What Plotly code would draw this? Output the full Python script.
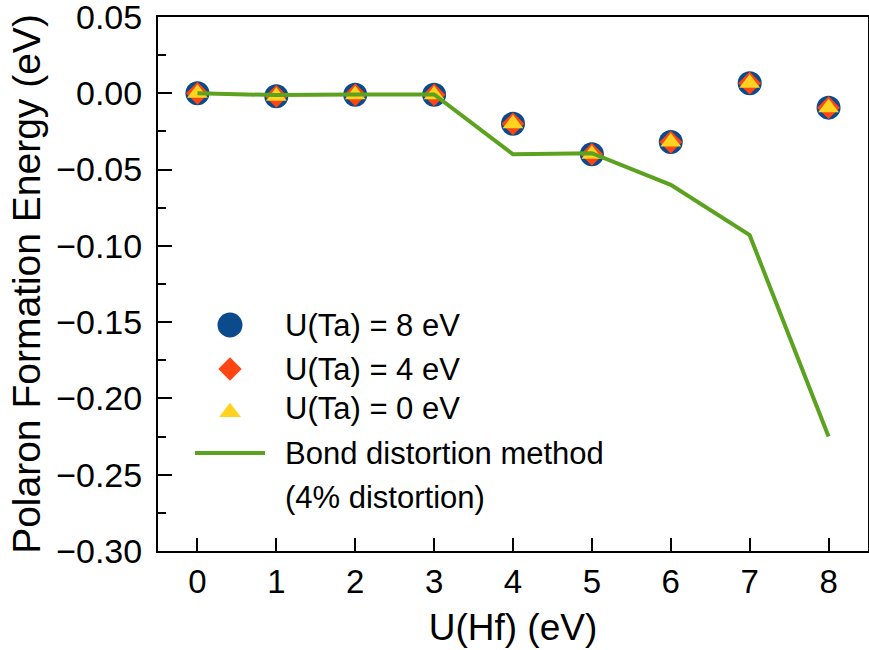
import plotly.graph_objects as go

# ---- data ----
u_hf = [0, 1, 2, 3, 4, 5, 6, 7, 8]
e_ta8 = [0.000, -0.002, -0.001, -0.001, -0.020, -0.040, -0.032, 0.0066, -0.0094]
e_ta4 = [0.000, -0.002, -0.001, -0.001, -0.020, -0.040, -0.032, 0.0066, -0.0094]
e_ta0 = [0.000, -0.002, -0.001, -0.001, -0.020, -0.040, -0.032, 0.0066, -0.0094]
e_bond = [0.000, -0.0012, -0.0008, -0.0008, -0.040, -0.0393, -0.060, -0.093, -0.225]
y_ticks = [0.05, 0.00, -0.05, -0.10, -0.15, -0.20, -0.25, -0.30]
series_names = ["U(Ta) = 8 eV", "U(Ta) = 4 eV", "U(Ta) = 0 eV", "Bond distortion method", "(4% distortion)"]

FONT = "Liberation Sans, Arial, sans-serif"
C_BLUE = "#0b4a8b"
C_ORANGE = "#ff4612"
C_YELLOW = "#ffd320"
C_GREEN = "#5ba21e"

X_RANGE = [-0.5, 8.5]
Y_RANGE = [-0.30, 0.05]

def fx(f):
    return X_RANGE[0] + f * (X_RANGE[1] - X_RANGE[0])

def fy(f):
    return Y_RANGE[0] + f * (Y_RANGE[1] - Y_RANGE[0])

fig = go.Figure()
fig.add_trace(go.Scatter(x=u_hf, y=e_ta8, mode="markers", name=series_names[0], showlegend=False,
                         marker=dict(symbol="circle", size=24, color=C_BLUE, line=dict(width=0))))
fig.add_trace(go.Scatter(x=u_hf, y=e_ta4, mode="markers", name=series_names[1], showlegend=False,
                         marker=dict(symbol="diamond", size=17.5, color=C_ORANGE, line=dict(width=0))))
fig.add_trace(go.Scatter(x=u_hf, y=e_ta0, mode="markers", name=series_names[2], showlegend=False,
                         marker=dict(symbol="triangle-up", size=18, color=C_YELLOW, line=dict(width=0))))
fig.add_trace(go.Scatter(x=u_hf, y=e_bond, mode="lines", name=series_names[3], showlegend=False,
                         line=dict(color=C_GREEN, width=4)))

# ---- hand-built legend (positions as fractions of the plot area) ----
leg_sym_x = 0.1014
leg_rows_y = [0.4232, 0.3408, 0.2660, 0.1835, 0.1010]
leg_text_x = 0.176
leg_line_x = [0.0521, 0.1507]
fig.add_trace(go.Scatter(x=[fx(leg_sym_x)], y=[fy(leg_rows_y[0])], mode="markers",
                         showlegend=False, hoverinfo="skip",
                         marker=dict(symbol="circle", size=25, color=C_BLUE, line=dict(width=0))))
fig.add_trace(go.Scatter(x=[fx(leg_sym_x)], y=[fy(leg_rows_y[1])], mode="markers",
                         showlegend=False, hoverinfo="skip",
                         marker=dict(symbol="diamond", size=18, color=C_ORANGE, line=dict(width=0))))
fig.add_trace(go.Scatter(x=[fx(leg_sym_x)], y=[fy(leg_rows_y[2] - 0.006)], mode="markers",
                         showlegend=False, hoverinfo="skip",
                         marker=dict(symbol="triangle-up", size=19, color=C_YELLOW, line=dict(width=0))))
fig.add_trace(go.Scatter(x=[fx(leg_line_x[0]), fx(leg_line_x[1])], y=[fy(leg_rows_y[3])] * 2,
                         mode="lines", showlegend=False, hoverinfo="skip",
                         line=dict(color=C_GREEN, width=4)))
for name, yy in zip(series_names, leg_rows_y):
    fig.add_annotation(x=leg_text_x, y=yy, xref="paper", yref="paper", text=name, showarrow=False,
                       xanchor="left", yanchor="middle", font=dict(size=31, family=FONT, color="black"))

fig.update_layout(
    width=869, height=650,
    margin=dict(l=158, r=1, t=17, b=99, autoexpand=False),
    paper_bgcolor="white", plot_bgcolor="white",
    font=dict(family=FONT, size=33, color="black"),
    showlegend=False,
)
fig.update_layout(xaxis=dict(
    range=X_RANGE, tickvals=u_hf, ticks="inside", ticklen=13, tickwidth=1.5, tickcolor="black",
    showline=True, linecolor="black", linewidth=2, mirror=True, automargin=False,
    showgrid=False, zeroline=False, ticklabeloverflow="allow",
    tickfont=dict(size=33, family=FONT),
    title=dict(text="U(Hf) (eV)", font=dict(size=37, family=FONT), standoff=16),
))
fig.update_layout(yaxis=dict(
    range=Y_RANGE, tickvals=y_ticks, tickformat=".2f", ticks="inside", ticklen=14, tickwidth=1.5,
    tickcolor="black", ticklabelstandoff=7, ticklabeloverflow="allow", automargin=False,
    showline=True, linecolor="black", linewidth=2, mirror=True,
    showgrid=False, zeroline=False,
    tickfont=dict(size=34, family=FONT),
    minor=dict(dtick=0.025, ticks="inside", ticklen=8, tickwidth=1.5, tickcolor="black", showgrid=False),
    title=dict(text="Polaron Formation Energy (eV)", font=dict(size=39, family=FONT), standoff=4),
))

fig.write_html("out.html")
